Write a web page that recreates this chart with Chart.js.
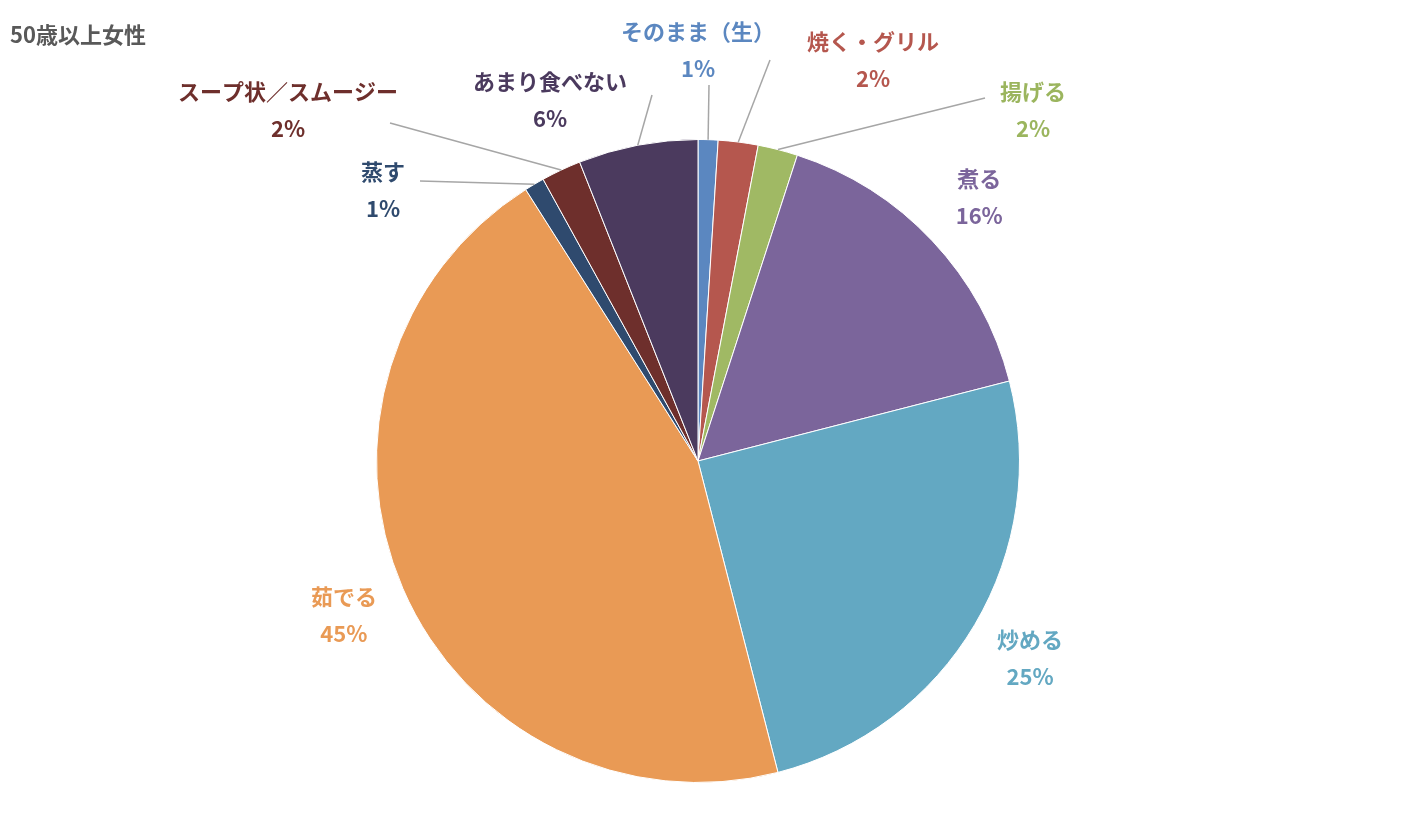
<!DOCTYPE html>
<html><head><meta charset="utf-8">
<script src="https://cdn.jsdelivr.net/npm/chart.js@4"></script>
<style>html,body{margin:0;background:#fff}#wrap{width:1402px;height:840px}</style>
</head><body><div id="wrap"><canvas id="c"></canvas></div>
<script>
const categories = ['そのまま（生）','焼く・グリル','揚げる','煮る','炒める','茹でる','蒸す','スープ状／スムージー','あまり食べない'];
const values = [1,2,2,16,25,45,1,2,6];
const colors = ['#5b87c0','#b5574e','#a0b964','#7b659b','#63a8c2','#e99a55','#2f4a6e','#6e2f2c','#4b3a5e'];
const textColors = ['#5b87c0','#b5574e','#9bb55e','#7b659b','#63a8c2','#e99a55','#2f4a6e','#6e2f2c','#4b3a5e'];
// label offsets from pie centre for small slices (null = placed by angle)
const labelOffsets = [[0,-429],[175,-419],[335,-369],null,null,null,[-315,-289],[-410,-369],[-148,-379]];
const leaderEnds = [[11,-376],[72,-401],[287,-363],null,null,null,[-278,-280],[-308,-338],[-46,-366]];

const labelPlugin = {
  id: 'pieLabels',
  afterDraw(chart) {
    const c = chart.ctx;
    c.save();
    c.font = 'bold 22px "Noto Sans CJK JP", sans-serif';
    c.fillStyle = '#595959';
    c.textAlign = 'left'; c.textBaseline = 'middle';
    c.fillText('50歳以上女性', 10, 35);
    const arcs = chart.getDatasetMeta(0).data;
    c.textAlign = 'center';
    arcs.forEach((a, i) => {
      const mid = (a.startAngle + a.endAngle) / 2;
      let x, y;
      if (labelOffsets[i]) {
        x = a.x + labelOffsets[i][0]; y = a.y + labelOffsets[i][1];
        const ex = a.x + Math.cos(mid) * a.outerRadius, ey = a.y + Math.sin(mid) * a.outerRadius;
        c.strokeStyle = '#a6a6a6'; c.lineWidth = 1.5;
        c.beginPath(); c.moveTo(ex, ey);
        c.lineTo(a.x + leaderEnds[i][0], a.y + leaderEnds[i][1]);
        c.stroke();
      } else {
        const r = a.outerRadius * 1.2;
        x = a.x + Math.cos(mid) * r; y = a.y + Math.sin(mid) * r - 18;
      }
      c.fillStyle = textColors[i];
      c.fillText(categories[i], x, y);
      c.fillText(values[i] + '%', x, y + 37);
    });
    c.restore();
  }
};

new Chart(document.getElementById('c'), {
  type: 'pie',
  data: { labels: categories, datasets: [{ data: values, backgroundColor: colors, borderColor: '#fff', borderWidth: 1 }] },
  options: {
    responsive: true, maintainAspectRatio: false, animation: false,
    layout: { padding: { left: 376, right: 382, top: 139, bottom: 57 } },
    plugins: { legend: { display: false }, tooltip: { enabled: false } }
  },
  plugins: [labelPlugin]
});
</script></body></html>
